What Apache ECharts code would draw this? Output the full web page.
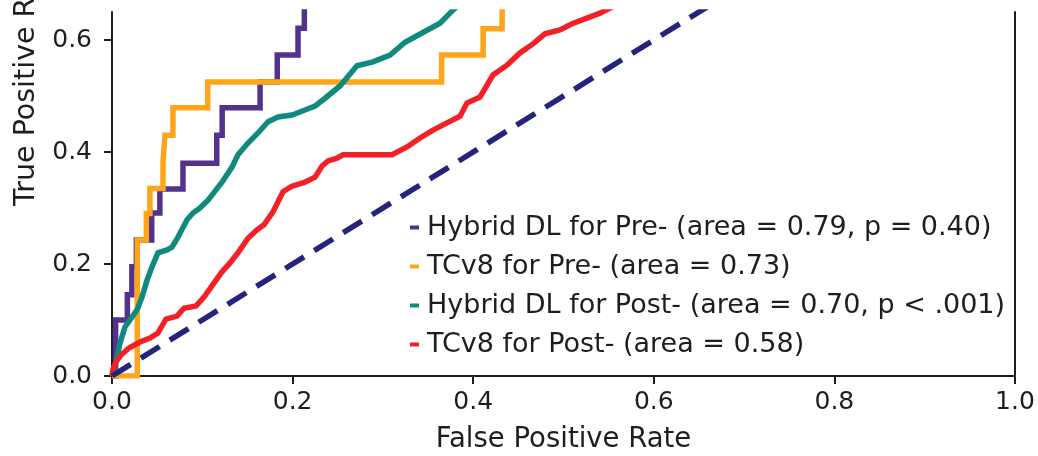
<!DOCTYPE html>
<html>
<head>
<meta charset="utf-8">
<script src="https://cdn.jsdelivr.net/npm/echarts@6/dist/echarts.min.js"></script>
<style>
  html, body { margin: 0; padding: 0; background: #fff; }
  #roc { width: 1038px; height: 456px; }
</style>
</head>
<body>
<div id="roc"></div>
<script>
// ROC corner points (fpr, tpr)
const hybridPreFpr = [0, 0.004, 0.017, 0.022, 0.027, 0.044, 0.053, 0.0786, 0.116, 0.122, 0.164, 0.183, 0.206, 0.213];
const hybridPreTpr = [0, 0.10, 0.145, 0.195, 0.243, 0.291, 0.334, 0.380, 0.430, 0.479, 0.525, 0.573, 0.621, 0.68];

const tcPreFpr = [0, 0.028, 0.038, 0.042, 0.0565, 0.0587, 0.0675, 0.106, 0.365, 0.411, 0.432];
const tcPreTpr = [0, 0.243, 0.29, 0.335, 0.382, 0.430, 0.479, 0.525, 0.573, 0.620, 0.68];

const hybridPostFpr = [0, 0.0033, 0.0089, 0.0144, 0.0221, 0.0277, 0.0332, 0.0388, 0.0443, 0.0509, 0.0609, 0.0664, 0.0731,
  0.0831, 0.0897, 0.0975, 0.1063, 0.1107, 0.1218, 0.1329, 0.1395, 0.1506, 0.1617, 0.1728, 0.1838, 0.1993, 0.2137,
  0.2248, 0.2359, 0.2525, 0.2713, 0.289, 0.3079, 0.3245, 0.3433, 0.3632, 0.3743, 0.385];
const hybridPostTpr = [0, 0.016, 0.059, 0.0875, 0.105, 0.118, 0.141, 0.171, 0.195, 0.220, 0.225, 0.230, 0.248,
  0.279, 0.291, 0.300, 0.314, 0.323, 0.346, 0.373, 0.395, 0.416, 0.434, 0.454, 0.4625, 0.466, 0.475,
  0.482, 0.496, 0.518, 0.554, 0.561, 0.573, 0.596, 0.6125, 0.630, 0.648, 0.665];

const tcPostFpr = [0, 0.0011, 0.0044, 0.010, 0.0188, 0.031, 0.042, 0.0509, 0.0598, 0.072, 0.0797, 0.093, 0.1019,
  0.1107, 0.1218, 0.1307, 0.1395, 0.1506, 0.1606, 0.1683, 0.1783, 0.1894, 0.1993, 0.2137, 0.2248, 0.2326, 0.2392,
  0.2492, 0.2558, 0.3101, 0.3267, 0.3411, 0.3555, 0.371, 0.3854, 0.3931, 0.4075, 0.4219, 0.4374, 0.4518, 0.4662,
  0.4795, 0.4961, 0.5094, 0.526, 0.5404, 0.555];
const tcPostTpr = [0, 0.0125, 0.025, 0.0375, 0.050, 0.0607, 0.0679, 0.0768, 0.1018, 0.107, 0.121, 0.125, 0.141,
  0.161, 0.186, 0.202, 0.220, 0.246, 0.261, 0.270, 0.293, 0.329, 0.339, 0.346, 0.355, 0.375, 0.384,
  0.389, 0.395, 0.395, 0.409, 0.425, 0.439, 0.452, 0.464, 0.4875, 0.498, 0.5375, 0.555, 0.577, 0.593,
  0.611, 0.618, 0.629, 0.639, 0.648, 0.66];

const chanceLine = [0, 1];

const seriesNames = [
  "Hybrid DL for Pre- (area = 0.79, p = 0.40)",
  "TCv8 for Pre- (area = 0.73)",
  "Hybrid DL for Post- (area = 0.70, p < .001)",
  "TCv8 for Post- (area = 0.58)"
];
const tickLabels = ["0.0", "0.2", "0.4", "0.6", "0.8", "1.0"];

const zip = (xs, ys) => xs.map((x, i) => [x, ys[i]]);
const font = "DejaVu Sans";
const ink = "#1e1e1e";

const chart = echarts.init(document.getElementById("roc"));

function curve(name, xs, ys, color, step) {
  return {
    name: name,
    type: "line",
    data: zip(xs, ys),
    step: step ? "end" : false,
    symbol: "none",
    clip: true,
    lineStyle: { color: color, width: 5.5, join: "miter" },
    itemStyle: { color: color }
  };
}

chart.setOption({
  animation: false,
  backgroundColor: "#fff",
  grid: { left: 112, right: 23, top: 12, bottom: 80, outerBoundsMode: "none", containLabel: false },
  legend: {
    data: seriesNames,
    orient: "vertical",
    left: 410,
    top: 214,
    padding: 0,
    itemGap: 12,
    itemWidth: 9,
    itemHeight: 4,
    icon: "rect",
    textStyle: { fontFamily: font, fontSize: 27, color: ink, lineHeight: 27, padding: [0, 0, 0, 3] }
  },
  xAxis: {
    type: "value",
    min: 0,
    max: 1,
    interval: 0.2,
    name: "False Positive Rate",
    nameLocation: "middle",
    nameGap: 50,
    nameTextStyle: { fontFamily: font, fontSize: 27.5, color: ink },
    splitLine: { show: false },
    axisLine: { lineStyle: { color: ink, width: 2 } },
    axisTick: { length: 8, lineStyle: { color: ink, width: 2 } },
    axisLabel: {
      margin: 14,
      fontFamily: font,
      fontSize: 25,
      color: ink,
      formatter: v => tickLabels[Math.round(v / 0.2)]
    }
  },
  yAxis: [
    {
      type: "value",
      min: 0,
      max: 0.65,
      interval: 0.2,
      splitLine: { show: false },
      axisLine: { show: true, lineStyle: { color: ink, width: 2 } },
      axisTick: { show: true, length: 8, lineStyle: { color: ink, width: 2 } },
      axisLabel: {
        margin: 20,
        fontFamily: font,
        fontSize: 25,
        color: ink,
        showMaxLabel: false,
        formatter: v => (Math.abs(v / 0.2 - Math.round(v / 0.2)) < 1e-6 ? tickLabels[Math.round(v / 0.2)] : "")
      }
    },
    {
      type: "value",
      position: "right",
      min: 0,
      max: 0.65,
      interval: 0.2,
      splitLine: { show: false },
      axisLine: { show: true, lineStyle: { color: ink, width: 2 } },
      axisTick: { show: false },
      axisLabel: { show: false }
    }
  ],
  graphic: [
    {
      type: "text",
      x: 27,
      y: 79,
      rotation: Math.PI / 2,
      style: {
        text: "True Positive Rate",
        fontFamily: font,
        fontSize: 28.5,
        fill: ink,
        textAlign: "center",
        textVerticalAlign: "middle"
      }
    }
  ],
  series: [
    curve(seriesNames[0], hybridPreFpr, hybridPreTpr, "#54318d", true),
    curve(seriesNames[1], tcPreFpr, tcPreTpr, "#ffa51c", true),
    curve(seriesNames[2], hybridPostFpr, hybridPostTpr, "#10897f", false),
    curve(seriesNames[3], tcPostFpr, tcPostTpr, "#f22027", false),
    {
      name: "chance",
      type: "line",
      data: zip(chanceLine, chanceLine),
      symbol: "none",
      clip: true,
      lineStyle: { color: "#24247d", width: 5.5, type: [22, 12] }
    }
  ]
});
</script>
</body>
</html>
